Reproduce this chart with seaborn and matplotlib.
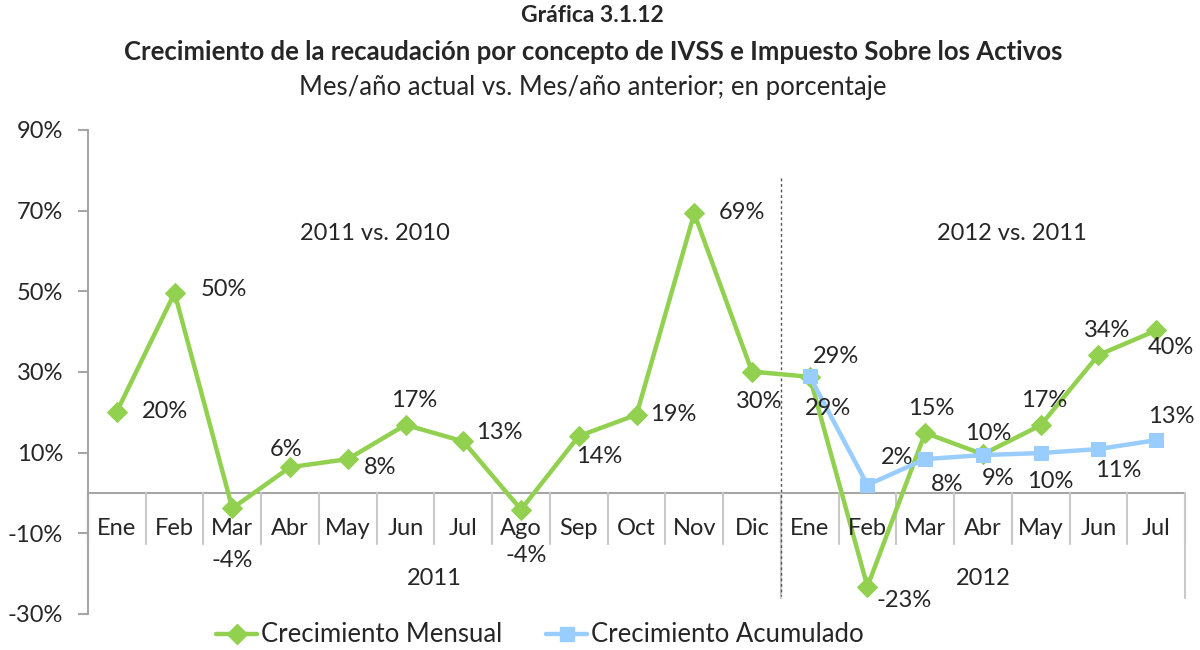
import matplotlib
matplotlib.use("Agg")
import matplotlib.pyplot as plt
from matplotlib.lines import Line2D
import seaborn as sns
import pandas as pd
import numpy as np

# ---------------- data ----------------
months = ["Ene", "Feb", "Mar", "Abr", "May", "Jun", "Jul", "Ago", "Sep", "Oct", "Nov", "Dic",
          "Ene", "Feb", "Mar", "Abr", "May", "Jun", "Jul"]
years = ["2011", "2012"]
year_lengths = [12, 7]
mensual = [20.2, 49.6, -3.8, 6.4, 8.4, 16.9, 12.8, -4.1, 14.1, 19.4, 69.3, 30.1,
           28.8, -23.2, 14.9, 9.6, 16.8, 34.2, 40.3]
acumulado_2012 = [28.9, 2.0, 8.4, 9.4, 9.9, 10.9, 13.1]
yticks = [-30, -10, 10, 30, 50, 70, 90]
period_labels = ["2011 vs. 2010", "2012 vs. 2011"]

# label offsets (pixels: dx right, dy down)
mensual_off = [(48, 0), (49, -3), (0, 52), (-4, -18), (32, 8), (9, -24), (36, -9),
               (5, 46), (20, 20), (37, 0), (48, -1), (7, 30),
               (18, 32), (37, 14), (6, -24), (5, -21), (3, -25), (9, -25), (15, 17)]
acum_off = [(26, -20), (30, -27), (22, 25), (15, 23), (10, 28), (20, 21), (15, -24)]

GREEN = "#92D050"
BLUE = "#99CCFF"
AXIS_GRAY = "#A6A6A6"
FS = 17

sns.set_style("white")
plt.rcParams["font.family"] = ["Lato", "DejaVu Sans"]

n = len(months)
x_all = np.arange(n)
df_m = pd.DataFrame({"x": x_all, "v": mensual})
x_acc = np.arange(year_lengths[0], n)
df_a = pd.DataFrame({"x": x_acc, "v": acumulado_2012})

fig = plt.figure(figsize=(12, 6.5), dpi=100)
ax = fig.add_axes([88 / 1200, 1 - 614 / 650, (1185 - 88) / 1200, (614 - 130) / 650])

sns.lineplot(data=df_m, x="x", y="v", ax=ax, color=GREEN, linewidth=3.2,
             marker="D", markersize=10, markeredgecolor=GREEN, zorder=3)
sns.lineplot(data=df_a, x="x", y="v", ax=ax, color=BLUE, linewidth=3.2,
             marker="s", markersize=10, markeredgecolor=BLUE, zorder=4)

ax.set_xlim(-0.5, n - 0.5)
ax.set_ylim(-30, 90)
ax.set_yticks(yticks)
ax.set_yticklabels([f"{t}%" for t in yticks], fontsize=FS)
ax.set_xticks([])
ax.set_xlabel("")
ax.set_ylabel("")
for s in ["top", "right", "bottom"]:
    ax.spines[s].set_visible(False)
ax.spines["left"].set_color(AXIS_GRAY)
ax.spines["left"].set_linewidth(1.5)
ax.tick_params(axis="y", length=7, width=1.5, color=AXIS_GRAY, left=True, pad=11)

# zero axis line with category separators
ax.plot([-0.5, n - 0.5], [0, 0], color=AXIS_GRAY, lw=1.5, zorder=1, clip_on=False)
for b in np.arange(n + 1) - 0.5:
    ax.plot([b, b], [0, -12.6], color="#C8C8C8", lw=1.5, zorder=1, clip_on=False)
bounds = np.concatenate([[0], np.cumsum(year_lengths)]) - 0.5
for b in bounds:
    ax.plot([b, b], [0, -26], color="#C8C8C8", lw=1.5, zorder=1, clip_on=False)

for i, m in enumerate(months):
    ax.text(i, -8.7, m, ha="center", va="center", fontsize=FS)
for k, yl in enumerate(years):
    ax.text((bounds[k] + bounds[k + 1]) / 2, -21.3, yl, ha="center", va="center", fontsize=FS)

# dotted divider
ax.plot([bounds[1], bounds[1]], [78, -25.5], color="#555555", lw=1, ls=(0, (2, 2)), zorder=2)

ax.text(4.47, 64.4, period_labels[0], ha="center", va="center", fontsize=FS)
ax.text(15.5, 64.4, period_labels[1], ha="center", va="center", fontsize=FS)

# data labels
for i, v in enumerate(mensual):
    dx, dy = mensual_off[i]
    ax.annotate(f"{v:.0f}%", (i, v), xytext=(dx, -dy), textcoords="offset pixels",
                ha="center", va="center", fontsize=FS, zorder=6)
for j, v in enumerate(acumulado_2012):
    dx, dy = acum_off[j]
    ax.annotate(f"{v:.0f}%", (x_acc[j], v), xytext=(dx, -dy), textcoords="offset pixels",
                ha="center", va="center", fontsize=FS, zorder=6)

# legend
if ax.get_legend() is not None:
    ax.get_legend().remove()
handles = [Line2D([], [], color=GREEN, lw=3.2, marker="D", markersize=10),
           Line2D([], [], color=BLUE, lw=3.2, marker="s", markersize=10)]
fig.legend(handles, ["Crecimiento Mensual", "Crecimiento Acumulado"], loc="center",
           bbox_to_anchor=(0.45, 1 - 635 / 650), ncol=2, frameon=False, fontsize=18.5,
           handlelength=1.6, handletextpad=0.15, columnspacing=1.7)

# titles
fig.text(0.494, 1 - 16 / 650, "Gráfica 3.1.12", ha="center", va="center",
         fontsize=16.5, fontweight="bold")
fig.text(0.494, 1 - 52 / 650,
         "Crecimiento de la recaudación por concepto de IVSS e Impuesto Sobre los Activos",
         ha="center", va="center", fontsize=18.5, fontweight="bold")
fig.text(0.494, 1 - 87 / 650, "Mes/año actual vs. Mes/año anterior; en porcentaje",
         ha="center", va="center", fontsize=18.5)

fig.savefig("out.png", dpi=100)
